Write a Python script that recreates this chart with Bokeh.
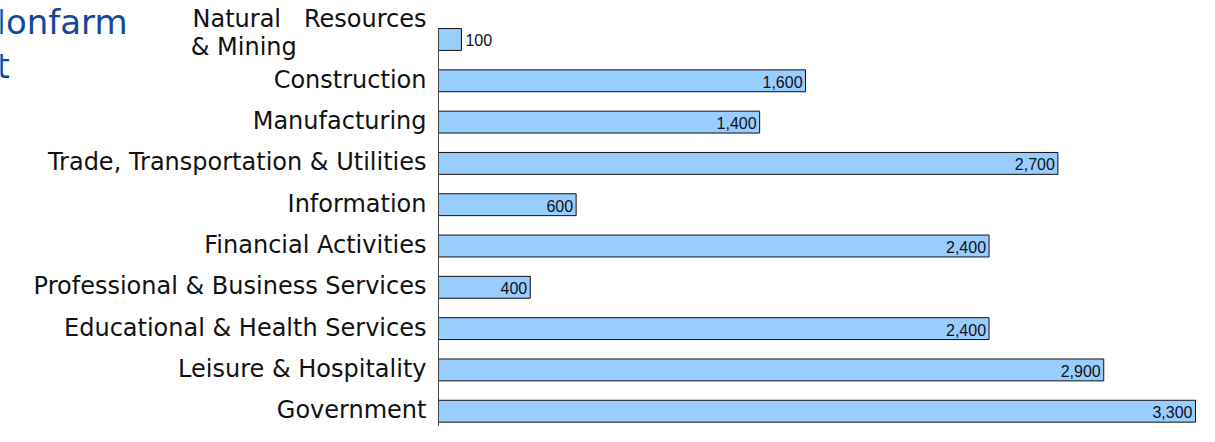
from bokeh.plotting import figure
from bokeh.models import ColumnDataSource, Range1d, Label
from bokeh.core.properties import value
from bokeh.embed import file_html
from bokeh.resources import INLINE

NB = "\u00a0"
categories = [
    "Natural" + NB * 3 + "Resources\n& Mining" + NB * 17,
    "Construction",
    "Manufacturing",
    "Trade, Transportation & Utilities",
    "Information",
    "Financial Activities",
    "Professional & Business Services",
    "Educational & Health Services",
    "Leisure & Hospitality",
    "Government",
]
jobs = [100, 1600, 1400, 2700, 600, 2400, 400, 2400, 2900, 3300]
value_labels = ["100", "1,600", "1,400", "2,700", "600", "2,400", "400", "2,400", "2,900", "3,300"]
title_lines = ["Nonfarm", "t"]

idx = list(range(len(categories)))
bar_h = 0.53

p = figure(width=1199, height=426, output_backend="svg", toolbar_location=None,
           x_range=Range1d(-1909.3, 3317.4), y_range=Range1d(9.37, -0.944),
           min_border_left=0, min_border_right=0, min_border_top=0, min_border_bottom=0)
p.outline_line_color = None
p.xgrid.visible = False
p.ygrid.visible = False
p.xaxis.visible = False
p.yaxis.visible = False

src = ColumnDataSource(dict(y=idx, v=jobs, lab=value_labels))
p.hbar(y="y", right="v", left=0, height=bar_h, source=src,
       fill_color="#99ccff", line_color="#111111", line_width=1)

# category axis line (starts at the top of the first bar)
p.segment(x0=[0], y0=[idx[0] - bar_h / 2], x1=[0], y1=[idx[-1] + 2],
          line_color="#444444", line_width=1)

inside = [i for i in idx if jobs[i] >= 300]
outside = [i for i in idx if jobs[i] < 300]
src_in = ColumnDataSource(dict(y=[idx[i] for i in inside], v=[jobs[i] for i in inside],
                               lab=[value_labels[i] for i in inside]))
src_out = ColumnDataSource(dict(y=[idx[i] for i in outside], v=[jobs[i] for i in outside],
                                lab=[value_labels[i] for i in outside]))
p.text(x="v", y="y", text="lab", source=src_in, x_offset=-3, y_offset=1,
       text_align="right", text_baseline="middle", text_font=value("Liberation Sans"),
       text_font_size="16px", text_color="#111111")
p.text(x="v", y="y", text="lab", source=src_out, x_offset=4, y_offset=1,
       text_align="left", text_baseline="middle", text_font=value("Liberation Sans"),
       text_font_size="16px", text_color="#111111")

# category labels
single = [i for i in idx if "\n" not in categories[i]]
multi = [i for i in idx if "\n" in categories[i]]
cat_single = ColumnDataSource(dict(y=[idx[i] for i in single], x=[0] * len(single),
                                   lab=[categories[i] for i in single]))
cat_multi = ColumnDataSource(dict(y=[idx[i] for i in multi], x=[0] * len(multi),
                                  lab=[categories[i] for i in multi]))
p.text(x="x", y="y", text="lab", source=cat_single, x_offset=-12, y_offset=-1,
       text_align="right", text_baseline="middle", text_font=value("DejaVu Sans"),
       text_font_size="24px", text_color="#111111", text_line_height=1.0)
p.text(x="x", y="y", text="lab", source=cat_multi, x_offset=-12, y_offset=-6,
       text_align="right", text_baseline="middle", text_font=value("DejaVu Sans"),
       text_font_size="24px", text_color="#111111", text_line_height=1.0)

p.add_layout(Label(x=-20, y=21, x_units="canvas", y_units="canvas", text=title_lines[0],
                   text_font="DejaVu Sans", text_font_size="34px", text_color="#15479a",
                   text_baseline="alphabetic"))
p.add_layout(Label(x=-4, y=65, x_units="canvas", y_units="canvas", text=title_lines[1],
                   text_font="DejaVu Sans", text_font_size="34px", text_color="#15479a",
                   text_baseline="alphabetic"))

open("out.html", "w").write(file_html(p, INLINE))
